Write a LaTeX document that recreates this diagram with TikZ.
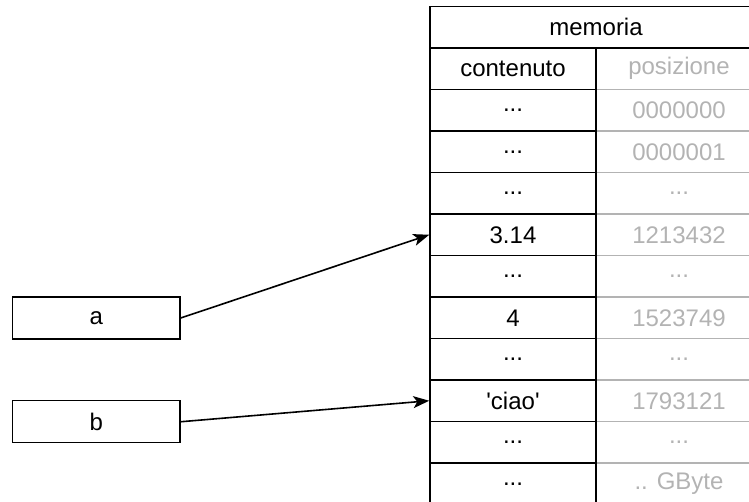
\documentclass[tikz,border=0pt]{standalone}
\usepackage{fontspec}
\setmainfont{Liberation Sans}
\usepackage{tikz}
\usetikzlibrary{arrows.meta,positioning}
\definecolor{posgray}{HTML}{B3B3B3}
\newcommand{\rowh}{41.5}
\newcommand{\rowtop}{68.75}
\newcommand{\colA}{513}
\newcommand{\colB}{679}
\tikzstyle{cell}=[draw, rectangle, line width=1.1pt, minimum width=124.5pt, minimum height=31.125pt, inner sep=0, font=\fontsize{18}{21}\selectfont]
\tikzstyle{poscell}=[cell, draw=posgray, text=posgray]
\tikzstyle{header}=[cell, minimum width=249pt]
\tikzstyle{var}=[draw, rectangle, line width=1.1pt, minimum width=125.6pt, minimum height=31.5pt, inner sep=0, font=\fontsize{18}{21}\selectfont]
\tikzstyle{arrow}=[-{Stealth[length=12pt,width=9pt,inset=3pt]}, line width=1.2pt]

\begin{document}
\begin{tikzpicture}[x=0.75pt,y=-0.75pt]
  \useasboundingbox (0,0) rectangle (749,502);

  % posizioni
  \node[poscell] (p0) at (\colB, \rowtop+0*\rowh) {posizione};
  \node[poscell] (p1) at (\colB, \rowtop+1*\rowh) {0000000};
  \node[poscell] (p2) at (\colB, \rowtop+2*\rowh) {0000001};
  \node[poscell] (p3) at (\colB, \rowtop+3*\rowh) {...};
  \node[poscell] (p4) at (\colB, \rowtop+4*\rowh) {1213432};
  \node[poscell] (p5) at (\colB, \rowtop+5*\rowh) {...};
  \node[poscell] (p6) at (\colB, \rowtop+6*\rowh) {1523749};
  \node[poscell] (p7) at (\colB, \rowtop+7*\rowh) {...};
  \node[poscell] (p8) at (\colB, \rowtop+8*\rowh) {1793121};
  \node[poscell] (p9) at (\colB, \rowtop+9*\rowh) {...};
  \node[poscell] (p10) at (\colB, \rowtop+10*\rowh) {.. GByte};

  % contenuto
  \node[cell] (c0) at (\colA, \rowtop+0*\rowh) {contenuto};
  \node[cell] (c1) at (\colA, \rowtop+1*\rowh) {...};
  \node[cell] (c2) at (\colA, \rowtop+2*\rowh) {...};
  \node[cell] (c3) at (\colA, \rowtop+3*\rowh) {...};
  \node[cell] (c4) at (\colA, \rowtop+4*\rowh) {3.14};
  \node[cell] (c5) at (\colA, \rowtop+5*\rowh) {...};
  \node[cell] (c6) at (\colA, \rowtop+6*\rowh) {4};
  \node[cell] (c7) at (\colA, \rowtop+7*\rowh) {...};
  \node[cell] (c8) at (\colA, \rowtop+8*\rowh) {\textquotesingle ciao\textquotesingle};
  \node[cell] (c9) at (\colA, \rowtop+9*\rowh) {...};
  \node[cell] (c10) at (\colA, \rowtop+10*\rowh) {...};

  \node[header] (M) at (596, \rowtop-1*\rowh) {memoria};

  % variabili
  \node[var] (A) at (96.25, 318) {a};
  \node[var] (B) at (96.25, 421.75) {b};

  \draw[arrow] (A.east) to (c4.west);
  \draw[arrow] (B.east) to (c8.west);

\end{tikzpicture}
\end{document}
